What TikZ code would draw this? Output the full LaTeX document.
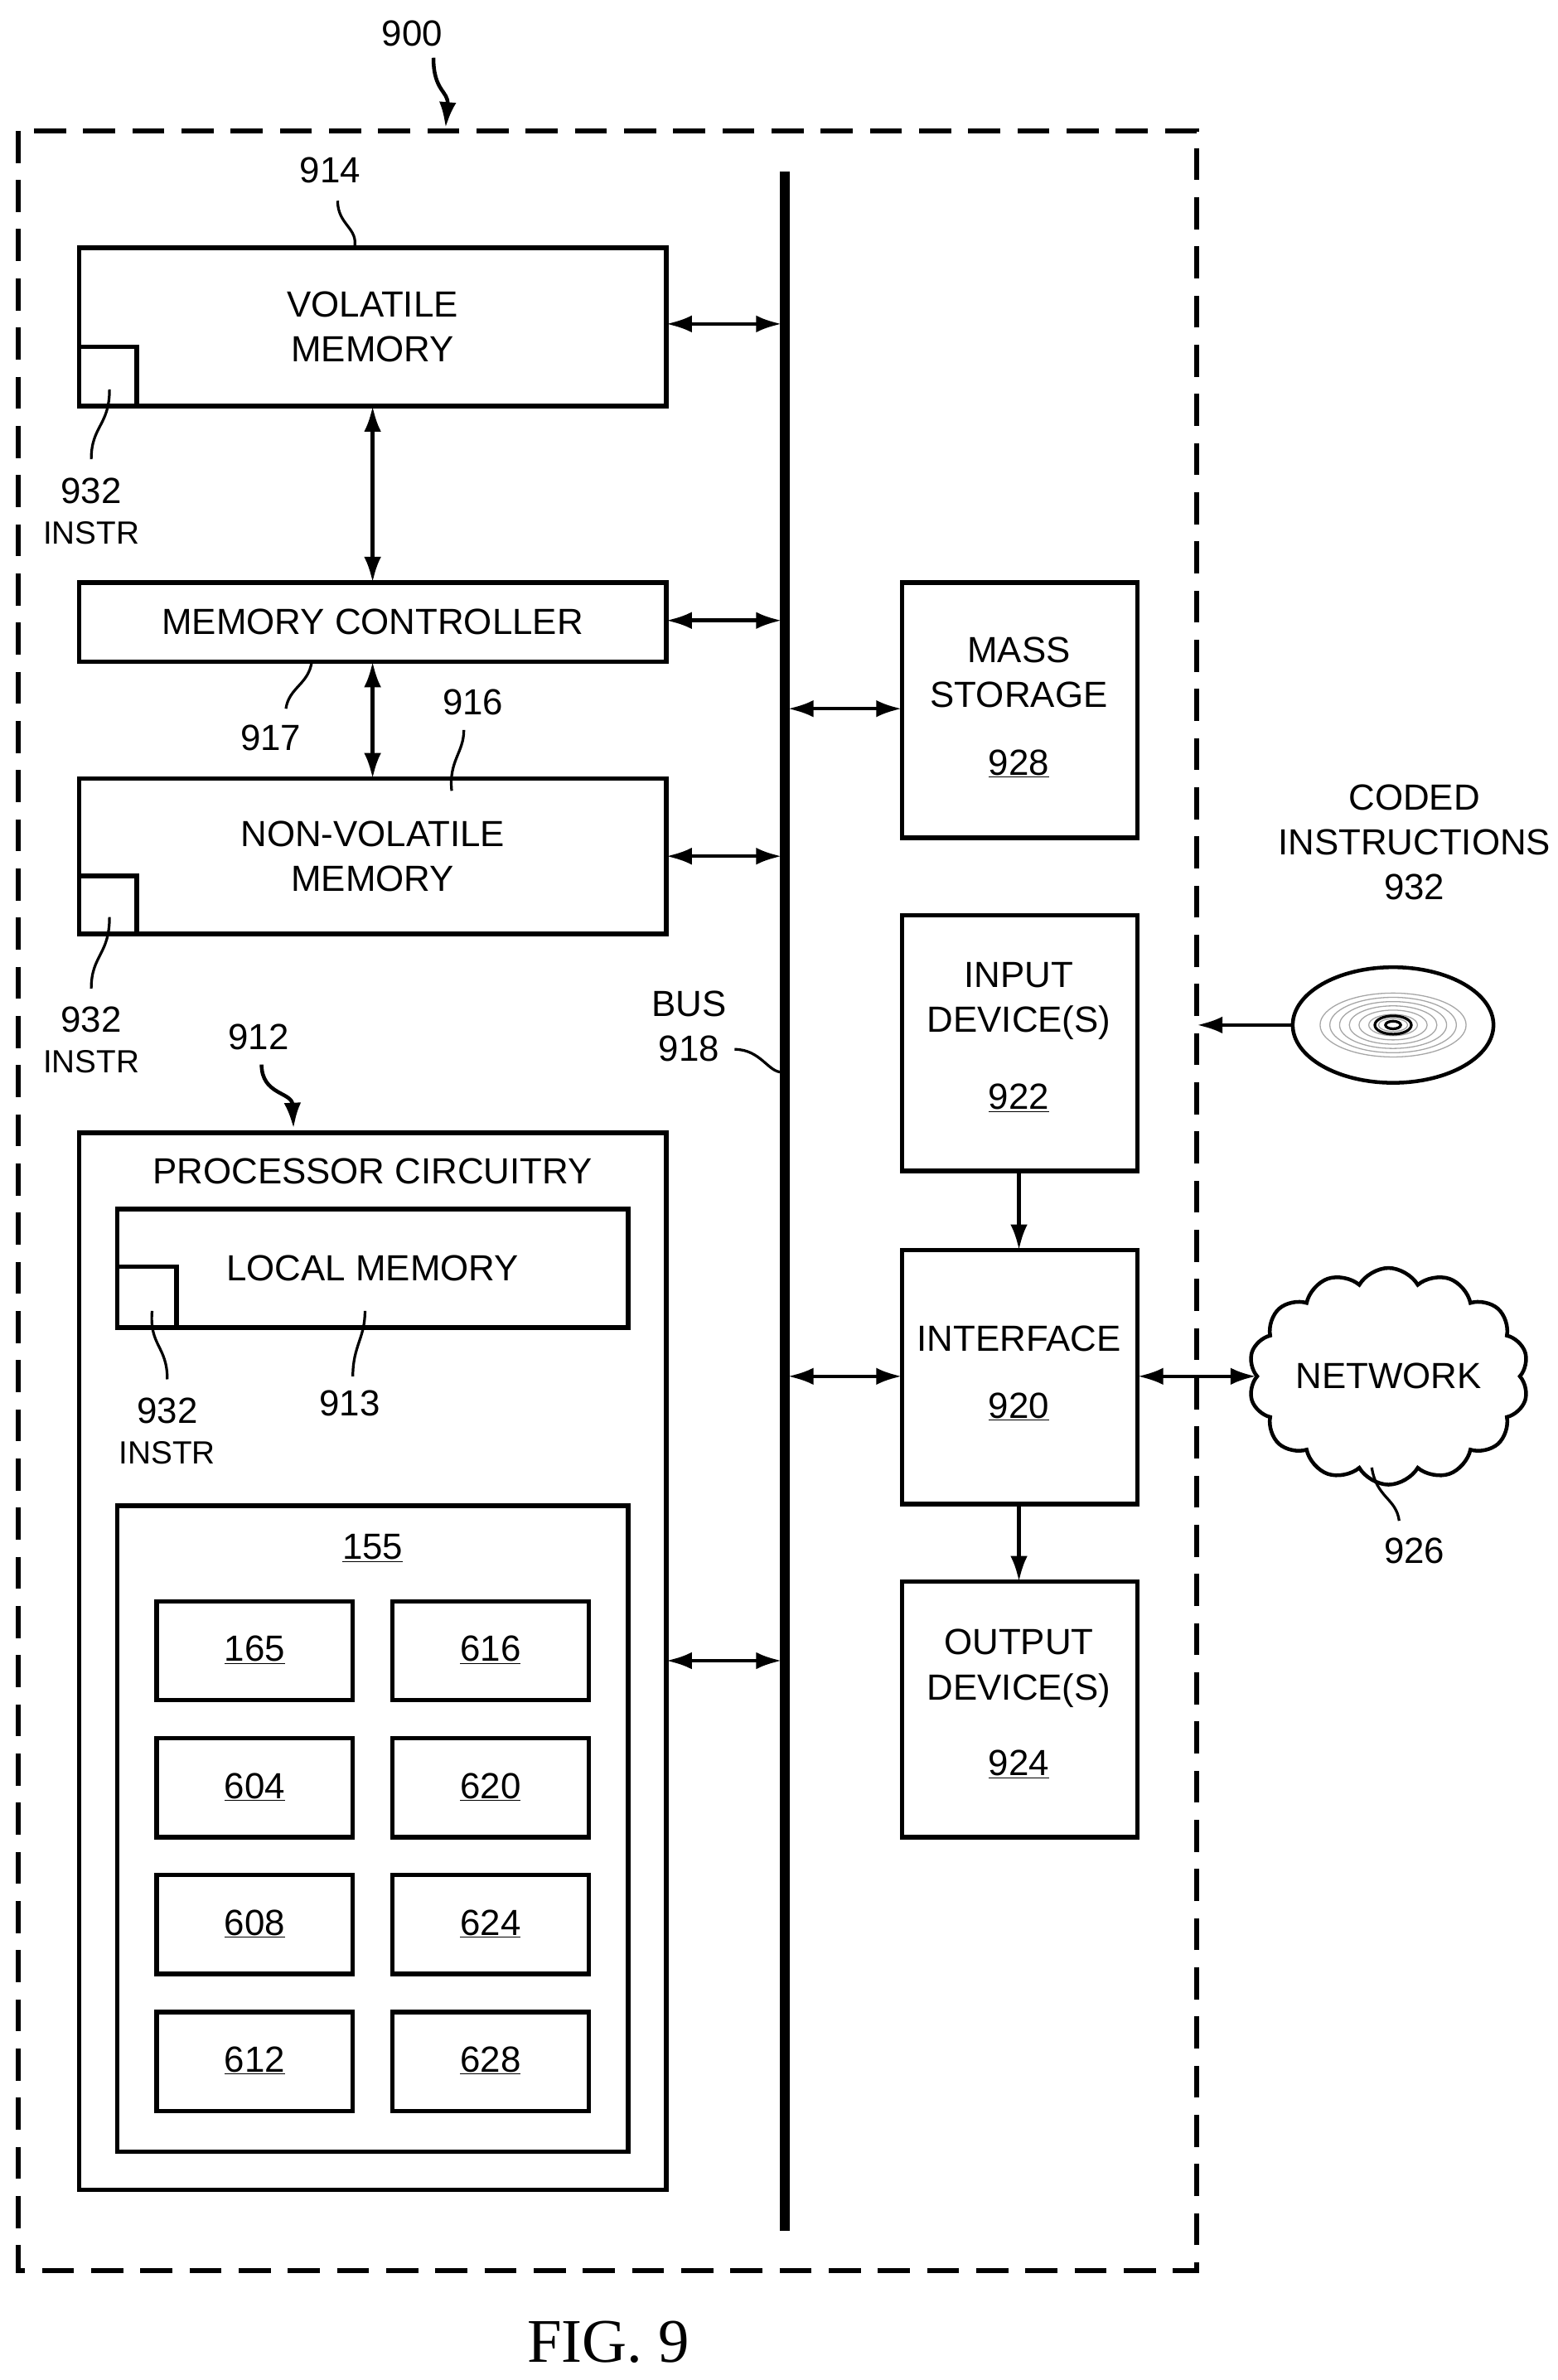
\documentclass[tikz,border=0pt]{standalone}
\usepackage{fontspec}
\setmainfont{Liberation Sans}
\newfontfamily\figfont{Liberation Serif}
\usetikzlibrary{arrows.meta,shapes.symbols,shapes.geometric}
\begin{document}
\begin{tikzpicture}[x=0.05cm,y=-0.05cm,
 box/.style={draw,line width=4.2pt},
 lbl/.style={font=\fontsize{34}{42}\selectfont,align=center,inner sep=0},
 ar/.style={line width=3.5pt,{Latex[length=24pt,width=16pt]}-{Latex[length=24pt,width=16pt]}},
 sa/.style={line width=3.5pt,-{Latex[length=24pt,width=16pt]}},
 lead/.style={line width=2.5pt}]
\useasboundingbox (0,0) rectangle (1024,1565);
\draw[line width=4.5pt,dash pattern=on 30pt off 16pt] (12,86) rectangle (787,1493);
\node[lbl] (l900) at (271,22) {900};
\draw[sa] (285,38) .. controls (285,60) and (295,60) .. (293,84);
\draw[line width=9pt] (516,113) coordinate (bt) -- (516,1467) coordinate (bb);
% volatile
\draw[box] (52,163) rectangle (438,267); \node[lbl] (vm) at (245,215) {VOLATILE\\MEMORY};
\draw[box] (52,228) rectangle (90,267);
\node[lbl] (l914) at (217,112) {914};
\draw[lead] (222,132) .. controls (222,148) and (236,150) .. (233,163);
\node[lbl] (i1) at (60,336) {932\\[-4pt]{\fontsize{30}{34}\selectfont INSTR}};
\draw[lead] (72,256) .. controls (72,280) and (60,280) .. (60,302);
% controller
\draw[box] (52,383) rectangle (438,435); \node[lbl] (mc) at (245,409) {MEMORY CONTROLLER};
\draw[ar] (245,267) -- (245,383);
\draw[ar] (245,435) -- (245,512);
\node[lbl] (l917) at (178,485) {917};
\draw[lead] (205,435) .. controls (203,450) and (190,452) .. (188,466);
\node[lbl] (l916) at (311,462) {916};
\draw[lead] (305,480) .. controls (305,495) and (295,500) .. (297,520);
% nonvolatile
\draw[box] (52,512) rectangle (438,614); \node[lbl] (nv) at (245,563) {NON-VOLATILE\\MEMORY};
\draw[box] (52,576) rectangle (90,614);
\node[lbl] (i2) at (60,684) {932\\[-4pt]{\fontsize{30}{34}\selectfont INSTR}};
\draw[lead] (72,603) .. controls (72,628) and (60,628) .. (60,650);
% bus arrows
\foreach \y in {213,408,563,1092} \draw[ar] (438,\y) -- (514,\y);
% processor
\node[lbl] (l912) at (170,682) {912};
\draw[sa] (172,700) .. controls (172,720) and (192,718) .. (193,742);
\draw[box] (52,745) rectangle (438,1440); \node[lbl] (pc) at (245,770) {PROCESSOR CIRCUITRY};
\draw[box] (77,795) rectangle (413,873); \node[lbl] (lm) at (245,834) {LOCAL MEMORY};
\draw[box] (77,833) rectangle (116,873);
\node[lbl] (i3) at (110,941) {932\\[-4pt]{\fontsize{30}{34}\selectfont INSTR}};
\draw[lead] (100,862) .. controls (98,885) and (110,885) .. (110,907);
\node[lbl] (l913) at (230,923) {913};
\draw[lead] (240,862) .. controls (240,880) and (232,885) .. (232,905);
\draw[box] (77,990) rectangle (413,1415); \node[lbl] (u155) at (245,1018) {\underline{155}};
\foreach \a/\b [count=\i from 0] in {165/616,604/620,608/624,612/628}{
 \pgfmathsetmacro\yt{1053+90*\i}
 \draw[box] (103,\yt) rectangle (232,\yt+65);
 \draw[box] (258,\yt) rectangle (387,\yt+65);
 \node[lbl] at (167.5,\yt+32) {\underline{\a}};
 \node[lbl] at (322.5,\yt+32) {\underline{\b}};
}
% bus label
\node[lbl] (bus) at (453,675) {BUS\\918};
\draw[lead] (483,690) .. controls (500,690) and (505,705) .. (514,705);
% right boxes
\draw[box] (593,383) rectangle (748,551); \node[lbl] (ms) at (670,442) {MASS\\STORAGE};
\node[lbl] at (670,502) {\underline{928}};
\draw[ar] (518,466) -- (593,466);
\draw[box] (593,602) rectangle (748,770); \node[lbl] (in) at (670,658) {INPUT\\DEVICE(S)};
\node[lbl] at (670,722) {\underline{922}};
\draw[box] (593,822) rectangle (748,989); \node[lbl] (if) at (670,880) {INTERFACE};
\node[lbl] at (670,925) {\underline{920}};
\draw[ar] (518,905) -- (593,905);
\draw[box] (593,1040) rectangle (748,1208); \node[lbl] (out) at (670,1097) {OUTPUT\\DEVICE(S)};
\node[lbl] at (670,1160) {\underline{924}};
\draw[sa] (670,770) -- (670,822);
\draw[sa] (670,989) -- (670,1040);
% disc
\node[lbl] (ci) at (930,554) {CODED\\INSTRUCTIONS\\932};
\draw[line width=3.5pt] (916,674) ellipse (66 and 38);
\foreach \r in {6,10,14,18,22,26,30} \draw[gray!70,line width=1pt] (916,674) ellipse ({\r*1.6} and \r*0.7);
\draw[line width=2.5pt] (916,674) ellipse (12 and 6);
\draw[line width=2.5pt] (916,674) ellipse (5 and 2.5);
\draw[sa] (850,674) -- (787,674);
% network
\node[cloud,draw,line width=3.5pt,cloud puffs=14,cloud puff arc=120,aspect=1.4,minimum width=175*0.05cm,minimum height=125*0.05cm,lbl] (net) at (913,905) {NETWORK};
\draw[ar] (748,905) -- (826,905);
\node[lbl] (l926) at (930,1020) {926};
\draw[lead] (902,965) .. controls (905,985) and (918,985) .. (920,1000);
\node[font=\figfont\fontsize{58}{64}\selectfont] (fig) at (400,1540) {FIG. 9};
\end{tikzpicture}
\end{document}
